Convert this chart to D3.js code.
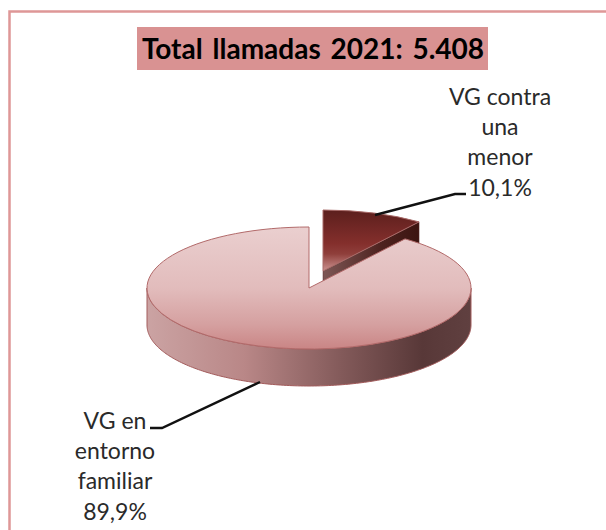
<!DOCTYPE html>
<html><head><meta charset="utf-8">
<script src="https://cdn.jsdelivr.net/npm/d3@7"></script>
<style>html,body{margin:0;padding:0;background:#fff}svg{display:block}text{font-family:Lato,"Open Sans",sans-serif}</style>
</head><body><div id="c"></div>
<script>
const categories = ["VG contra una menor", "VG en entorno familiar"];
const values = [10.1, 89.9];
const labelLines = [["VG contra","una","menor","10,1%"],["VG en","entorno","familiar","89,9%"]];
const titleText = "Total llamadas 2021: 5.408";

const W=606,H=530, cx=309, cy=288, rx=162, ry=61, depth=37;
const explode={dx:14,dy:-17};
const svg=d3.select("#c").append("svg").attr("width",W).attr("height",H);
const defs=svg.append("defs");
function grad(id,horizontal,stops){
  const g=defs.append("linearGradient").attr("id",id)
    .attr("x1",0).attr("y1",0).attr("x2",horizontal?1:0).attr("y2",horizontal?0:1);
  stops.forEach(s=>g.append("stop").attr("offset",s[0]).attr("stop-color",s[1]));
}
grad("bigTop",false,[[0,"#eacfcf"],[0.5,"#e2bcbc"],[0.8,"#d5a0a0"],[1,"#c98585"]]);
grad("bigWall",true,[[0,"#cba3a3"],[0.3,"#b98787"],[0.6,"#835a5a"],[0.85,"#583838"],[1,"#604040"]]);
grad("smallTop",false,[[0,"#5c1f1d"],[0.55,"#842f2c"],[0.72,"#8f3f3b"],[1,"#cc9290"]]);
grad("smallWall",true,[[0,"#7d5755"],[0.6,"#4e2320"],[1,"#3c1410"]]);

// frame
svg.append("rect").attr("x",9.5).attr("y",11.5).attr("width",W+20).attr("height",H+20)
  .attr("fill","#fff").attr("stroke","#de9797").attr("stroke-width",2.5);

const pie=d3.pie().sort(null).startAngle(0).endAngle(2*Math.PI);
const arcs=pie(values);
const arcGen=d3.arc().innerRadius(0).outerRadius(rx);
const k=ry/rx;
const px=(a,ox=0)=>cx+ox+rx*Math.sin(a);
const py=(a,oy=0,d=0)=>cy+oy+d-ry*Math.cos(a);

// exploded slice
const s=arcs[0], b=arcs[1];
const apex=[cx+explode.dx,cy+explode.dy];
const tip=[px(s.endAngle,explode.dx),py(s.endAngle,explode.dy)];
svg.append("path")
  .attr("d",d3.line()([apex,tip,[tip[0],tip[1]+depth],[apex[0],apex[1]+depth]])+"Z")
  .attr("fill","url(#smallWall)").attr("stroke","#5c2e2c").attr("stroke-width",.5);
svg.append("path").attr("d",arcGen(s))
  .attr("transform",`translate(${apex[0]},${apex[1]}) scale(1,${k})`)
  .attr("fill","url(#smallTop)").attr("stroke","#a86a68").attr("stroke-width",1)
  .attr("vector-effect","non-scaling-stroke");

// big slice wall (front half only)
const front=d3.range(90,270.5,1).map(d=>d*Math.PI/180);
const wall=front.map(a=>[px(a),py(a)]).concat(front.slice().reverse().map(a=>[px(a),py(a,0,depth)]));
svg.append("path").attr("d",d3.line()(wall)+"Z")
  .attr("fill","url(#bigWall)").attr("stroke","#a35c5c").attr("stroke-width",1);
svg.append("path").attr("d",arcGen(b))
  .attr("transform",`translate(${cx},${cy}) scale(1,${k})`)
  .attr("fill","url(#bigTop)").attr("stroke","#b26a6a").attr("stroke-width",1)
  .attr("vector-effect","non-scaling-stroke");

// leaders
const leaders=[[[375,215],[455,194],[466,194]],[[260,382],[162,428],[150,428]]];
svg.selectAll("path.leader").data(leaders).join("path").attr("class","leader")
  .attr("d",d3.line()).attr("fill","none").attr("stroke","#111").attr("stroke-width",2.4);

// labels
const labelPos=[{x:500,y:105},{x:115,y:429}];
labelLines.forEach((lines,i)=>{
  svg.append("g").selectAll("text").data(lines).join("text")
    .attr("x",labelPos[i].x).attr("y",(d,j)=>labelPos[i].y+j*30.2)
    .attr("text-anchor","middle").attr("font-size",23).attr("fill","#2a2a2a").text(d=>d);
});

// title
svg.append("rect").attr("x",137).attr("y",27).attr("width",351).attr("height",43).attr("fill","#d99292");
svg.append("text").attr("x",313).attr("y",59).attr("text-anchor","middle")
  .attr("font-size",28).attr("font-weight",700).attr("fill","#000").attr("word-spacing",3).text(titleText);
</script></body></html>
